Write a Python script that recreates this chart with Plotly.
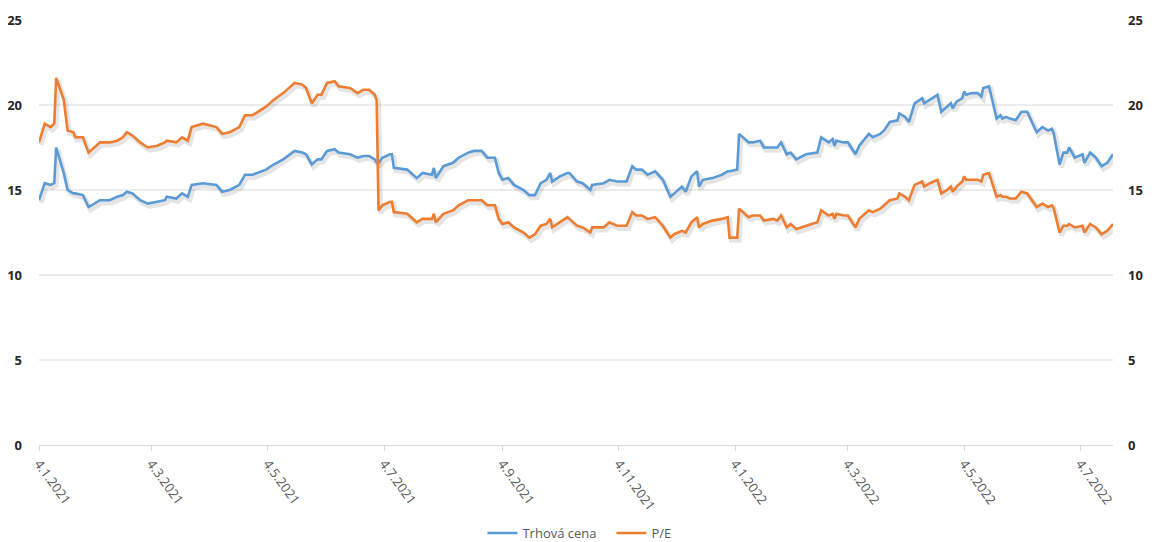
import plotly.graph_objects as go

dates = [
    "2021-01-04", "2021-01-06", "2021-01-07", "2021-01-10", "2021-01-12", "2021-01-13", "2021-01-17", "2021-01-19", "2021-01-22", "2021-01-23", "2021-01-27", "2021-01-30",
    "2021-02-02", "2021-02-05", "2021-02-10", "2021-02-14", "2021-02-17", "2021-02-19", "2021-02-22", "2021-02-26",
    "2021-03-02", "2021-03-07", "2021-03-11", "2021-03-12", "2021-03-17", "2021-03-20", "2021-03-23", "2021-03-25", "2021-03-31",
    "2021-04-07", "2021-04-10", "2021-04-14", "2021-04-19", "2021-04-22", "2021-04-26",
    "2021-05-03", "2021-05-07", "2021-05-12", "2021-05-18", "2021-05-22", "2021-05-24", "2021-05-27", "2021-05-30",
    "2021-06-01", "2021-06-04", "2021-06-08", "2021-06-10", "2021-06-16", "2021-06-20", "2021-06-23", "2021-06-26", "2021-06-29", "2021-06-30",
    "2021-07-01", "2021-07-03", "2021-07-07", "2021-07-08", "2021-07-09", "2021-07-16", "2021-07-21", "2021-07-24", "2021-07-29", "2021-07-30", "2021-07-31",
    "2021-08-04", "2021-08-09", "2021-08-12", "2021-08-17", "2021-08-20", "2021-08-24", "2021-08-27", "2021-08-31",
    "2021-09-02", "2021-09-04", "2021-09-07", "2021-09-10", "2021-09-15", "2021-09-18", "2021-09-21", "2021-09-24", "2021-09-27", "2021-09-29", "2021-09-30",
    "2021-10-04", "2021-10-08", "2021-10-09", "2021-10-13", "2021-10-16", "2021-10-20", "2021-10-21", "2021-10-27", "2021-10-30",
    "2021-11-03", "2021-11-08", "2021-11-11", "2021-11-13", "2021-11-16", "2021-11-19", "2021-11-23", "2021-11-27",
    "2021-12-01", "2021-12-03", "2021-12-07", "2021-12-09", "2021-12-12", "2021-12-15", "2021-12-16", "2021-12-18", "2021-12-23", "2021-12-28", "2021-12-31",
    "2022-01-01", "2022-01-05", "2022-01-06", "2022-01-11", "2022-01-13", "2022-01-17", "2022-01-19", "2022-01-24", "2022-01-26", "2022-01-28", "2022-01-31",
    "2022-02-02", "2022-02-05", "2022-02-10", "2022-02-16", "2022-02-18", "2022-02-22", "2022-02-24", "2022-02-25", "2022-02-26",
    "2022-03-02", "2022-03-04", "2022-03-08", "2022-03-10", "2022-03-15", "2022-03-17", "2022-03-21", "2022-03-23", "2022-03-26", "2022-03-30", "2022-03-31",
    "2022-04-03", "2022-04-05", "2022-04-08", "2022-04-12", "2022-04-13", "2022-04-16", "2022-04-20", "2022-04-22", "2022-04-25", "2022-04-27", "2022-04-28", "2022-04-30",
    "2022-05-03", "2022-05-04", "2022-05-05", "2022-05-08", "2022-05-11", "2022-05-13", "2022-05-14", "2022-05-17", "2022-05-21", "2022-05-23", "2022-05-24", "2022-05-26", "2022-05-28", "2022-05-31",
    "2022-06-03", "2022-06-06", "2022-06-11", "2022-06-14", "2022-06-17", "2022-06-19", "2022-06-20", "2022-06-23", "2022-06-25", "2022-06-27", "2022-06-28",
    "2022-07-01", "2022-07-05", "2022-07-06", "2022-07-09", "2022-07-12", "2022-07-15", "2022-07-18", "2022-07-21",
]

trhova_cena = [
    14.4, 15.0, 15.4, 15.3, 15.4, 17.5, 16.0, 15.0, 14.8, 14.8, 14.7, 14.0,
    14.2, 14.4, 14.4, 14.6, 14.7, 14.9, 14.8, 14.4,
    14.2, 14.3, 14.4, 14.6, 14.5, 14.8, 14.6, 15.3, 15.4,
    15.3, 14.9, 15.0, 15.3, 15.9, 15.9,
    16.2, 16.5, 16.8, 17.3, 17.2, 17.1, 16.5, 16.8,
    16.8, 17.3, 17.4, 17.2, 17.1, 16.9, 17.0, 17.0, 16.8, 16.6,
    16.6, 16.9, 17.1, 17.1, 16.3, 16.2, 15.7, 16.0, 15.9, 16.3, 15.7,
    16.4, 16.6, 16.9, 17.2, 17.3, 17.3, 16.9, 16.9,
    16.0, 15.6, 15.7, 15.3, 15.0, 14.7, 14.7, 15.4, 15.6, 16.0, 15.5,
    15.8, 16.0, 16.0, 15.5, 15.4, 15.0, 15.3, 15.4, 15.6,
    15.5, 15.5, 16.4, 16.2, 16.2, 15.9, 16.1, 15.6,
    14.6, 14.8, 15.2, 14.9, 15.8, 16.1, 15.2, 15.6, 15.7, 15.9, 16.1,
    16.1, 16.2, 18.3, 17.8, 17.8, 17.9, 17.5, 17.5, 17.5, 17.8, 17.1,
    17.2, 16.8, 17.1, 17.2, 18.1, 17.8, 18.0, 17.6, 17.9,
    17.8, 17.8, 17.1, 17.6, 18.3, 18.1, 18.3, 18.5, 19.0, 19.1, 19.5,
    19.3, 19.0, 20.1, 20.4, 20.1, 20.3, 20.6, 19.6, 19.9, 20.1, 19.8, 20.2,
    20.4, 20.8, 20.6, 20.7, 20.7, 20.5, 21.0, 21.1, 19.2, 19.4, 19.2, 19.3, 19.2, 19.1,
    19.6, 19.6, 18.4, 18.7, 18.5, 18.6, 18.3, 16.5, 17.2, 17.2, 17.5,
    16.9, 17.1, 16.6, 17.2, 16.9, 16.4, 16.6, 17.1,
]

pe = [
    17.8, 18.5, 18.9, 18.7, 18.9, 21.6, 20.3, 18.5, 18.4, 18.1, 18.1, 17.2,
    17.5, 17.8, 17.8, 17.9, 18.1, 18.4, 18.2, 17.8,
    17.5, 17.6, 17.8, 17.9, 17.8, 18.1, 17.9, 18.7, 18.9,
    18.7, 18.3, 18.4, 18.7, 19.4, 19.4,
    19.9, 20.3, 20.7, 21.3, 21.2, 21.0, 20.1, 20.6,
    20.6, 21.3, 21.4, 21.1, 21.0, 20.7, 20.9, 20.9, 20.6, 20.3,
    13.8, 14.1, 14.3, 14.3, 13.7, 13.6, 13.1, 13.3, 13.3, 13.6, 13.1,
    13.6, 13.8, 14.1, 14.4, 14.4, 14.4, 14.1, 14.1,
    13.3, 13.0, 13.1, 12.8, 12.5, 12.2, 12.4, 12.9, 13.0, 13.3, 12.8,
    13.1, 13.4, 13.3, 12.9, 12.8, 12.5, 12.8, 12.8, 13.1,
    12.9, 12.9, 13.7, 13.5, 13.5, 13.3, 13.4, 12.9,
    12.2, 12.4, 12.6, 12.5, 13.1, 13.4, 12.8, 13.0, 13.2, 13.3, 13.4,
    12.2, 12.2, 13.9, 13.4, 13.5, 13.5, 13.2, 13.3, 13.2, 13.5, 12.8,
    13.0, 12.7, 12.9, 13.1, 13.8, 13.5, 13.6, 13.3, 13.6,
    13.5, 13.5, 12.8, 13.3, 13.8, 13.7, 13.9, 14.1, 14.4, 14.5, 14.8,
    14.6, 14.4, 15.3, 15.5, 15.2, 15.4, 15.6, 14.8, 15.0, 15.2, 14.9, 15.2,
    15.5, 15.8, 15.6, 15.6, 15.6, 15.5, 15.9, 16.0, 14.6, 14.7, 14.6, 14.6, 14.5, 14.5,
    14.9, 14.8, 14.0, 14.2, 14.0, 14.1, 13.9, 12.5, 12.9, 12.9, 13.0,
    12.8, 12.9, 12.5, 13.0, 12.8, 12.4, 12.6, 13.0,
]

series_names = ["Trhová cena", "P/E"]
series_colors = ["#5B9BD5", "#ED7D31"]
y_ticks = [0, 5, 10, 15, 20, 25]
grid_values = [5, 10, 15, 20]

assert len(dates) == len(trhova_cena) == len(pe)

X_RANGE = ["2021-01-04", "2022-07-21"]
SHADOW_X_RANGE = ["2021-01-03", "2022-07-20"]   # draws the shadow ~2px to the right
Y_RANGE = [0, 25]
SHADOW_Y_RANGE = [0.16, 25.16]                  # draws the shadow ~3px lower

fig = go.Figure()

# soft drop shadows (on the hidden base axes, drawn first => underneath)
for vals in (trhova_cena, pe):
    fig.add_trace(go.Scatter(
        x=dates, y=vals, mode="lines", xaxis="x", yaxis="y",
        line=dict(color="rgba(0,0,0,0.10)", width=5),
        hoverinfo="skip", showlegend=False,
    ))

fig.add_trace(go.Scatter(
    x=dates, y=trhova_cena, name=series_names[0], mode="lines",
    xaxis="x2", yaxis="y2",
    line=dict(color=series_colors[0], width=2.6),
))
fig.add_trace(go.Scatter(
    x=dates, y=pe, name=series_names[1], mode="lines",
    xaxis="x2", yaxis="y3",
    line=dict(color=series_colors[1], width=2.6),
))

tick_font = dict(family="Open Sans", size=13, color="#595959")
ylab_font = dict(family="Open Sans", size=13, color="#262626", weight="bold")

shapes = [
    dict(type="line", xref="paper", x0=0, x1=1, yref="y2", y0=v, y1=v,
         line=dict(color="#d9d9d9", width=1), layer="below")
    for v in grid_values
]

# the page body adds an 8px offset, so the figure is 8px smaller each way
fig.update_layout(
    width=1152, height=534,
    margin=dict(l=31, r=47, t=12, b=97, autoexpand=False),
    paper_bgcolor="white", plot_bgcolor="white",
    font=dict(family="Open Sans", size=13, color="#595959"),
    showlegend=True,
    legend=dict(orientation="h", x=0.533, xanchor="center", y=-0.207, yanchor="middle",
                font=dict(family="Open Sans", size=13, color="#595959"),
                itemwidth=30, entrywidth=84, bgcolor="rgba(0,0,0,0)"),
    shapes=shapes,
    xaxis=dict(type="date", range=SHADOW_X_RANGE, visible=False, fixedrange=True,
               automargin=False),
    yaxis=dict(range=SHADOW_Y_RANGE, visible=False, fixedrange=True, automargin=False),
    xaxis2=dict(type="date", overlaying="x", range=X_RANGE, automargin=False,
                tick0="2021-01-04", dtick="M2", tickformat="%-d.%-m.%Y",
                tickangle=54, tickfont=tick_font,
                showgrid=False, zeroline=False,
                showline=True, linecolor="#d9d9d9", linewidth=1,
                ticks="outside", ticklen=5, tickcolor="#d9d9d9", tickwidth=1),
    yaxis2=dict(overlaying="y", side="left", range=Y_RANGE, tickvals=y_ticks,
                automargin=False,
                tickfont=ylab_font, showgrid=False, zeroline=False, showline=False,
                ticks="", ticklabelstandoff=16),
    yaxis3=dict(overlaying="y", side="right", range=Y_RANGE, tickvals=y_ticks,
                automargin=False,
                tickfont=ylab_font, showgrid=False, zeroline=False, showline=False,
                ticks="", ticklabelstandoff=14),
)

fig.write_html("out.html")
